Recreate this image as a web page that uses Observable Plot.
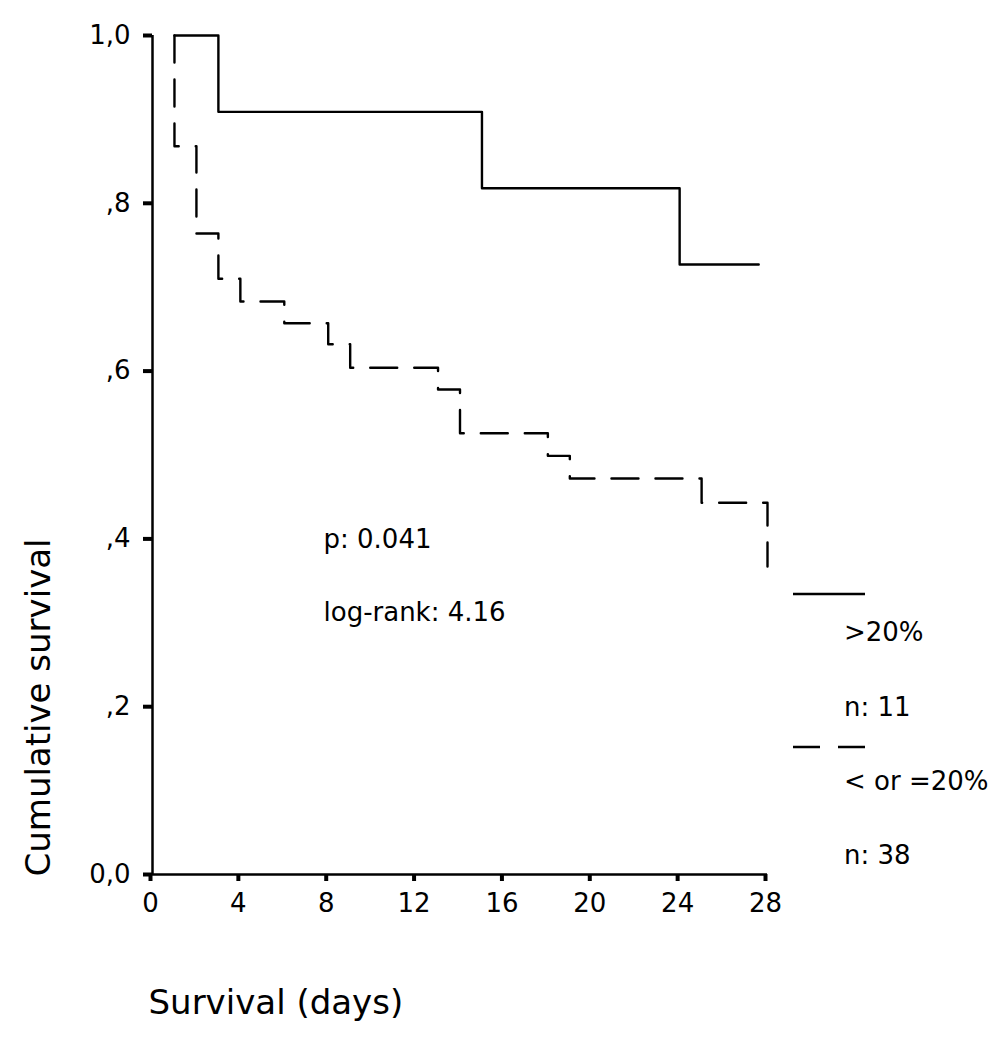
<!DOCTYPE html>
<html>
<head>
<meta charset="utf-8">
<script src="https://cdn.jsdelivr.net/npm/d3@7"></script>
<script src="https://cdn.jsdelivr.net/npm/@observablehq/plot@0.6"></script>
<style>
  body { margin: 0; background: #fff; }
  #chart { width: 1004px; height: 1037px; }
</style>
</head>
<body>
<div id="chart"></div>
<script>
// ---- data ----
const groups = [">20%", "< or =20%"];
const groupN = ["n: 11", "n: 38"];
const highTimes = [1, 3, 15, 24, 27.6];
const highSurvival = [1.0, 0.909, 0.818, 0.727, 0.727];
const lowTimes = [1, 1, 2, 3, 4, 6, 8, 9, 13, 14, 18, 19, 25, 28];
const lowSurvival = [1.0, 0.868, 0.764, 0.710, 0.683, 0.657, 0.632, 0.604, 0.578, 0.526, 0.499, 0.472, 0.443, 0.367];
const xTicks = [0, 4, 8, 12, 16, 20, 24, 28];
const yTicks = [0, 0.2, 0.4, 0.6, 0.8, 1.0];
const yTickLabels = ["0,0", ",2", ",4", ",6", ",8", "1,0"];
const statsLabels = ["p: 0.041", "log-rank: 4.16"];
const xTitle = "Survival (days)";
const yTitle = "Cumulative survival";

// ---- build tables ----
const high = highTimes.map((t, i) => ({t, s: highSurvival[i]}));
const low = lowTimes.map((t, i) => ({t, s: lowSurvival[i]}));

const W = 1004, H = 1037, mL = 152, mR = 237, mT = 35, mB = 163;
const FONT = "DejaVu Sans";

const plot = Plot.plot({
  width: W, height: H,
  marginLeft: mL, marginRight: mR, marginTop: mT, marginBottom: mB,
  style: {fontFamily: FONT, fontSize: "26px", color: "#000", background: "#fff", overflow: "visible"},
  x: {domain: [0, 28]},
  y: {domain: [0, 1]},
  marks: [
    Plot.axisX({ticks: xTicks, tickSize: 7, tickPadding: 12, strokeWidth: 4, label: null,
                tickFormat: d => String(d), fontSize: 26, dx: -2}),
    Plot.axisY({ticks: yTicks, tickSize: 9, tickPadding: 13, strokeWidth: 4, label: null,
                tickFormat: d => yTickLabels[yTicks.indexOf(d)], fontSize: 26}),
    Plot.ruleX([0], {stroke: "#000", strokeWidth: 2.5}),
    Plot.ruleY([0], {stroke: "#000", strokeWidth: 2.5}),
    Plot.line(high, {x: "t", y: "s", curve: "step-after", stroke: "#000", strokeWidth: 2.4}),
    Plot.line(low, {x: "t", y: "s", curve: "step-after", stroke: "#000", strokeWidth: 2.4,
                    strokeDasharray: "27,17"}),
    Plot.text([statsLabels[0]], {text: d => d, frameAnchor: "top-left", dx: 171, dy: 512,
                                 textAnchor: "start", lineAnchor: "bottom", fontSize: 26}),
    Plot.text([statsLabels[1]], {text: d => d, frameAnchor: "top-left", dx: 171, dy: 585,
                                 textAnchor: "start", lineAnchor: "bottom", fontSize: 26}),
    Plot.text([xTitle], {text: d => d, frameAnchor: "bottom-left", dx: -4, dy: 139,
                         textAnchor: "start", lineAnchor: "bottom", fontSize: 34}),
    Plot.text([yTitle], {text: d => d, frameAnchor: "bottom-left", dx: -103, dy: -167,
                         rotate: -90, textAnchor: "middle", lineAnchor: "bottom", fontSize: 34})
  ]
});

// ---- legend (outside the plotting frame, on the right) ----
const svg = d3.select(plot);
const lg = svg.append("g").attr("font-family", FONT).attr("font-size", 26)
  .attr("fill", "#000").attr("text-anchor", "start");
const legendRows = [
  {dash: null, lineY: 594, label: groups[0], labelY: 641, n: groupN[0], nY: 716},
  {dash: "27,18", lineY: 747, label: groups[1], labelY: 790, n: groupN[1], nY: 864}
];
legendRows.forEach(r => {
  const ln = lg.append("line").attr("x1", 793).attr("x2", 865)
    .attr("y1", r.lineY).attr("y2", r.lineY)
    .attr("stroke", "#000").attr("stroke-width", 2.4);
  if (r.dash) ln.attr("stroke-dasharray", r.dash);
  lg.append("text").attr("x", 844).attr("y", r.labelY).attr("text-anchor", "start").text(r.label);
  lg.append("text").attr("x", 844).attr("y", r.nY).attr("text-anchor", "start").text(r.n);
});

document.getElementById("chart").appendChild(plot);
</script>
</body>
</html>
